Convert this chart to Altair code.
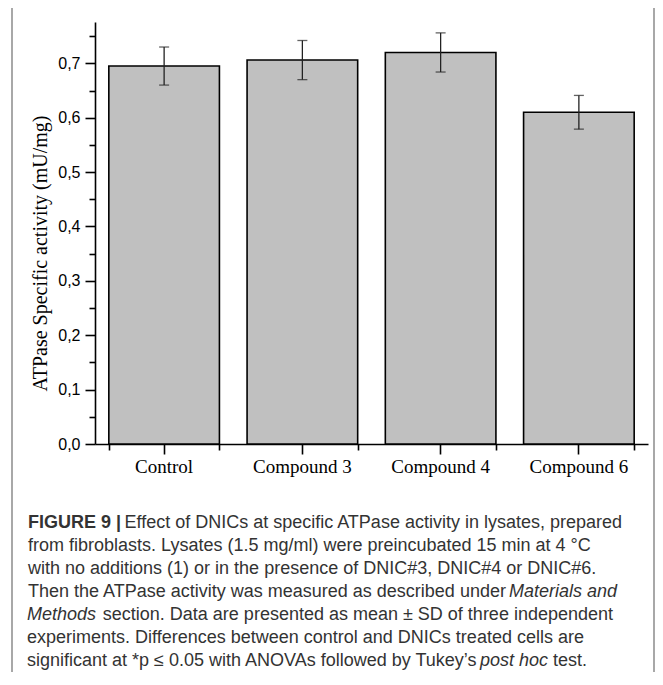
import altair as alt
import pandas as pd

# ---- data ----
categories = ["Control", "Compound 3", "Compound 4", "Compound 6"]
means = [0.695, 0.706, 0.720, 0.610]
sds = [0.035, 0.036, 0.036, 0.031]
y_major = [0.0, 0.1, 0.2, 0.3, 0.4, 0.5, 0.6, 0.7]
y_minor = [0.05, 0.15, 0.25, 0.35, 0.45, 0.55, 0.65, 0.75]
y_title = "ATPase Specific activity (mU/mg)"

# caption lines, split into (text, style, anchor) segments
caption = [
    [("FIGURE 9 |", "bold", "left"), ("Effect of DNICs at specific ATPase activity in lysates, prepared", "normal", "right")],
    [("from fibroblasts. Lysates (1.5 mg/ml) were preincubated 15 min at 4 °C", "normal", "left")],
    [("with no additions (1) or in the presence of DNIC#3, DNIC#4 or DNIC#6.", "normal", "left")],
    [("Then the ATPase activity was measured as described under", "normal", "left"), ("Materials and", "italic", "right")],
    [("Methods", "italic", "left"), ("section. Data are presented as mean ± SD of three independent", "normal", "right")],
    [("experiments. Differences between control and DNICs treated cells are", "normal", "left")],
    [("significant at *p ≤ 0.05 with ANOVAs followed by Tukey’s", "normal", "left"), ("post hoc", "italic", "left"), ("test.", "normal", "left")],
]
# anchor x of each segment (plot coordinates)
caption_x = [[-67, 527], [-67], [-67], [-67, 522], [-68, 518], [-68], [-68, 385, 458]]

df = pd.DataFrame({"cat": categories, "mean": means, "sd": sds})
df["lo"] = df["mean"] - df["sd"]
df["hi"] = df["mean"] + df["sd"]

W, H = 553, 422
yscale = alt.Scale(domain=[0, 0.776], nice=False, zero=True)
xscale = alt.Scale(domain=categories, paddingInner=0.2, paddingOuter=0.1)
comma = "replace(format(datum.value, '.1f'), '.', ',')"

bars = alt.Chart(df).mark_bar(fill="#c0c0c0", stroke="black", strokeWidth=1.6).encode(
    x=alt.X("cat:N", sort=categories, scale=xscale,
            axis=alt.Axis(title=None, labelAngle=0, tickBand="center", tickSize=10,
                          tickWidth=1.6, tickColor="black", domainColor="black",
                          domainWidth=1.6, labelFont="Liberation Serif", labelFontSize=19,
                          labelColor="black", labelPadding=3, grid=False)),
    y=alt.Y("mean:Q", scale=yscale,
            axis=alt.Axis(title=y_title, values=y_major, labelExpr=comma, tickSize=10,
                          tickWidth=1.6, tickColor="black", domainColor="black",
                          domainWidth=1.6, labelFont="Liberation Sans", labelFontSize=16,
                          labelColor="black", labelPadding=5, grid=False,
                          titleFont="Liberation Serif", titleFontSize=20,
                          titleFontWeight="normal", titleColor="black", titleAngle=270,
                          titleAlign="center", titleBaseline="alphabetic",
                          titleX=-49, titleY=231)),
)

err = alt.Chart(df).mark_rule(color="#222", strokeWidth=1.3).encode(
    x=alt.X("cat:N", sort=categories, scale=xscale,
            axis=alt.Axis(orient="bottom", tickBand="extent", labels=False, domain=False,
                          tickSize=6, tickWidth=1.6, tickColor="black", title=None, grid=False)),
    y=alt.Y("lo:Q", scale=yscale,
            axis=alt.Axis(orient="left", values=y_minor, labels=False, domain=False,
                          tickSize=6, tickWidth=1.6, tickColor="black", title=None, grid=False)),
    y2="hi:Q",
)

cap_hi = alt.Chart(df).mark_tick(color="#222", thickness=1.3, size=10).encode(
    x=alt.X("cat:N", sort=categories, scale=xscale, axis=None),
    y=alt.Y("hi:Q", scale=yscale, axis=None),
)
cap_lo = alt.Chart(df).mark_tick(color="#222", thickness=1.3, size=10).encode(
    x=alt.X("cat:N", sort=categories, scale=xscale, axis=None),
    y=alt.Y("lo:Q", scale=yscale, axis=None),
)

border = alt.Chart(pd.DataFrame({"a": [0]})).mark_rect(
    filled=False, stroke="#a8a8a8", strokeWidth=2
).encode(x=alt.value(-83), x2=alt.value(559), y=alt.value(-16), y2=alt.value(740))

text_layers = []
for i, (line, xs) in enumerate(zip(caption, caption_x)):
    y = 506 + 23 * i
    for (seg, style, anchor), x in zip(line, xs):
        text_layers.append(
            alt.Chart(pd.DataFrame({"t": [seg]})).mark_text(
                align=anchor, baseline="alphabetic", font="Liberation Sans", fontSize=18,
                fontWeight="bold" if style == "bold" else "normal",
                fontStyle="italic" if style == "italic" else "normal",
                color="#333333",
            ).encode(x=alt.value(x), y=alt.value(y), text="t:N")
        )

chart = alt.layer(bars, err, cap_hi, cap_lo, border, *text_layers).resolve_axis(
    x="independent", y="independent"
).properties(
    width=W, height=H,
    autosize=alt.AutoSizeParams(type="none"),
    padding={"left": 87, "top": 14, "right": 7, "bottom": 228},
).configure_view(stroke=None)

chart.save("out.html", embed_options={"renderer": "svg", "actions": False})
